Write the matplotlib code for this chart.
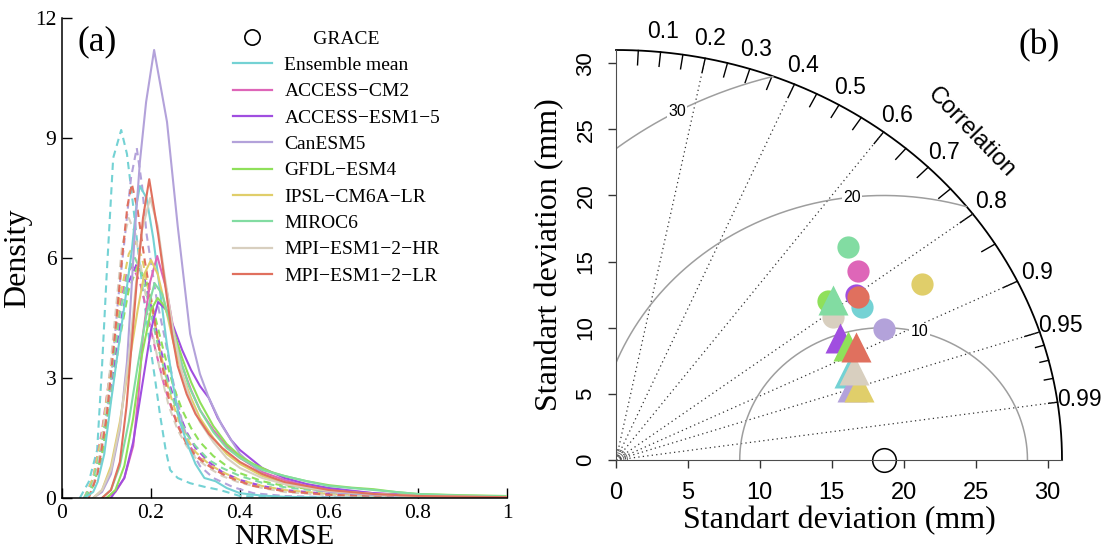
import numpy as np
import matplotlib

matplotlib.use("Agg")
import matplotlib.pyplot as plt
from matplotlib.lines import Line2D

serif = "Liberation Serif"
sans = "Liberation Sans"
plt.rcParams["font.family"] = [serif, "DejaVu Serif"]

# --- Panel (a): density curves of NRMSE ---
noms = ["Ensemble mean", "ACCESS\u2212CM2", "ACCESS\u2212ESM1\u22125", "CanESM5", "GFDL\u2212ESM4",
        "IPSL\u2212CM6A\u2212LR", "MIROC6", "MPI\u2212ESM1\u22122\u2212HR", "MPI\u2212ESM1\u22122\u2212LR"]
colors = ["#74D2D4", "#DE66B8", "#A04EE0", "#B3A2DA", "#8FE05A",
          "#E0CE6A", "#82DCA2", "#D8CFBF", "#E0705E"]

# solid curves
ens_x = [0.05, 0.07, 0.08, 0.095, 0.11, 0.126, 0.142, 0.157, 0.167, 0.175, 0.19, 0.205, 0.22, 0.235,
         0.25, 0.265, 0.28, 0.30, 0.32, 0.345, 0.37, 0.40, 0.45, 0.50, 0.60, 0.80, 1.0]
ens_y = [0.0, 0.15, 0.4, 1.1, 2.4, 3.7, 4.95, 6.2, 7.3, 7.8, 7.5, 6.5, 5.2, 3.9,
         2.8, 1.9, 1.4, 0.85, 0.5, 0.42, 0.25, 0.12, 0.06, 0.03, 0.01, 0.0, 0.0]
cm2_x = [0.10, 0.12, 0.14, 0.16, 0.172, 0.182, 0.198, 0.214, 0.235, 0.254, 0.27, 0.29, 0.31, 0.34,
         0.37, 0.40, 0.45, 0.50, 0.55, 0.60, 0.70, 0.80, 0.90, 1.0]
cm2_y = [0.0, 0.15, 0.5, 1.3, 2.6, 4.1, 5.4, 6.05, 5.2, 4.0, 3.3, 2.7, 2.2, 1.7,
         1.3, 1.0, 0.65, 0.45, 0.3, 0.22, 0.12, 0.06, 0.03, 0.02]
esm15_x = [0.11, 0.14, 0.16, 0.18, 0.20, 0.216, 0.235, 0.25, 0.27, 0.29, 0.31, 0.33, 0.35, 0.38,
           0.40, 0.45, 0.50, 0.55, 0.60, 0.70, 0.80, 0.90, 1.0]
esm15_y = [0.0, 0.5, 1.4, 2.8, 4.2, 4.9, 4.7, 4.3, 3.7, 3.2, 2.8, 2.5, 2.0, 1.45,
           1.2, 0.75, 0.5, 0.35, 0.25, 0.12, 0.06, 0.03, 0.02]
can_x = [0.07, 0.09, 0.11, 0.13, 0.146, 0.155, 0.164, 0.175, 0.189, 0.207, 0.236, 0.26, 0.288,
         0.31, 0.33, 0.36, 0.40, 0.45, 0.50, 0.60, 0.70, 0.80, 1.0]
can_y = [0.0, 0.15, 0.6, 1.7, 3.4, 5.0, 6.7, 8.4, 9.9, 11.2, 9.4, 6.8, 4.1,
         3.1, 2.5, 1.8, 1.1, 0.6, 0.35, 0.15, 0.08, 0.04, 0.01]
gfdl_x = [0.10, 0.12, 0.14, 0.16, 0.18, 0.20, 0.215, 0.23, 0.25, 0.27, 0.29, 0.31, 0.34, 0.37,
          0.40, 0.43, 0.47, 0.50, 0.55, 0.60, 0.65, 0.70, 0.75, 0.80, 0.90, 1.0]
gfdl_y = [0.0, 0.2, 0.8, 2.0, 3.6, 4.7, 5.0, 4.8, 4.2, 3.5, 2.9, 2.4, 1.8, 1.35,
          1.05, 0.85, 0.65, 0.55, 0.42, 0.32, 0.26, 0.22, 0.15, 0.1, 0.07, 0.05]
ipsl_x = [0.07, 0.09, 0.11, 0.13, 0.15, 0.17, 0.185, 0.20, 0.215, 0.23, 0.25, 0.27, 0.29, 0.31,
          0.34, 0.37, 0.40, 0.45, 0.50, 0.55, 0.60, 0.70, 0.80, 0.90, 1.0]
ipsl_y = [0.0, 0.2, 0.8, 1.9, 3.3, 4.7, 5.6, 5.95, 5.6, 4.9, 3.9, 3.1, 2.5, 2.0,
          1.5, 1.1, 0.85, 0.55, 0.35, 0.25, 0.18, 0.1, 0.05, 0.03, 0.02]
miroc_x = [0.09, 0.11, 0.13, 0.15, 0.17, 0.19, 0.208, 0.225, 0.245, 0.265, 0.285, 0.31, 0.34,
           0.37, 0.40, 0.45, 0.50, 0.55, 0.60, 0.65, 0.70, 0.80, 0.90, 1.0]
miroc_y = [0.0, 0.2, 0.8, 1.9, 3.3, 4.6, 5.37, 5.1, 4.3, 3.5, 2.8, 2.2, 1.65,
           1.25, 1.0, 0.7, 0.55, 0.42, 0.3, 0.25, 0.2, 0.1, 0.06, 0.04]
mpihr_x = [0.07, 0.09, 0.11, 0.13, 0.15, 0.165, 0.18, 0.198, 0.215, 0.23, 0.25, 0.27, 0.29, 0.31,
           0.34, 0.37, 0.40, 0.45, 0.50, 0.60, 0.70, 0.80, 1.0]
mpihr_y = [0.0, 0.2, 0.7, 1.8, 3.5, 5.2, 6.7, 7.5, 6.8, 5.6, 4.2, 3.1, 2.4, 1.9,
           1.4, 1.0, 0.75, 0.5, 0.35, 0.18, 0.1, 0.05, 0.02]
mpilr_x = [0.09, 0.11, 0.13, 0.145, 0.157, 0.168, 0.182, 0.196, 0.216, 0.231, 0.247, 0.26, 0.28,
           0.30, 0.33, 0.36, 0.40, 0.45, 0.50, 0.60, 0.70, 0.80, 1.0]
mpilr_y = [0.0, 0.2, 0.9, 2.3, 3.9, 5.4, 7.0, 7.97, 6.6, 5.4, 4.1, 3.3, 2.6,
           2.1, 1.6, 1.25, 0.9, 0.6, 0.4, 0.2, 0.1, 0.05, 0.02]

# dashed curves
ens_dx = [0.04, 0.06, 0.079, 0.09, 0.10, 0.115, 0.133, 0.146, 0.16, 0.175, 0.193, 0.21, 0.22,
          0.233, 0.243, 0.26, 0.288, 0.32, 0.355, 0.40, 0.50, 0.60]
ens_dy = [0.0, 0.4, 1.2, 3.3, 5.5, 8.5, 9.2, 8.6, 7.3, 5.8, 4.2, 2.9, 2.1,
          1.2, 0.7, 0.5, 0.37, 0.28, 0.2, 0.05, 0.01, 0.0]
cm2_dx = [0.05, 0.07, 0.09, 0.11, 0.13, 0.145, 0.158, 0.175, 0.19, 0.21, 0.23, 0.25, 0.27, 0.29,
          0.31, 0.34, 0.37, 0.40, 0.45, 0.50, 0.60, 0.70, 0.80, 1.0]
cm2_dy = [0.0, 0.5, 1.7, 3.3, 4.8, 5.6, 5.8, 5.4, 4.7, 3.7, 2.8, 2.1, 1.6, 1.25,
          1.0, 0.75, 0.55, 0.42, 0.28, 0.18, 0.08, 0.04, 0.02, 0.01]
esm15_dx = [0.05, 0.07, 0.09, 0.11, 0.13, 0.15, 0.168, 0.185, 0.20, 0.22, 0.24, 0.26, 0.28, 0.30,
            0.33, 0.36, 0.40, 0.45, 0.50, 0.60, 0.70, 0.80, 1.0]
esm15_dy = [0.0, 0.4, 1.3, 2.8, 4.3, 5.4, 5.85, 5.5, 4.8, 3.8, 2.9, 2.2, 1.65, 1.25,
            0.9, 0.65, 0.45, 0.3, 0.2, 0.1, 0.05, 0.02, 0.01]
can_dx = [0.05, 0.07, 0.09, 0.11, 0.126, 0.142, 0.155, 0.168, 0.18, 0.19, 0.213, 0.231, 0.25,
          0.27, 0.29, 0.31, 0.34, 0.385, 0.43, 0.50, 0.60, 0.80]
can_dy = [0.0, 0.3, 1.0, 2.9, 4.95, 6.6, 8.0, 8.75, 7.8, 6.6, 4.95, 4.0, 2.9,
          1.9, 1.2, 0.8, 0.5, 0.27, 0.12, 0.05, 0.02, 0.0]
gfdl_dx = [0.05, 0.07, 0.09, 0.11, 0.13, 0.15, 0.17, 0.19, 0.21, 0.23, 0.25, 0.27, 0.29, 0.31,
           0.34, 0.37, 0.40, 0.45, 0.50, 0.60, 0.70, 0.80, 1.0]
gfdl_dy = [0.0, 0.3, 1.1, 2.5, 4.0, 5.2, 5.8, 5.4, 4.5, 3.6, 2.8, 2.2, 1.75, 1.4,
           1.05, 0.8, 0.62, 0.42, 0.3, 0.17, 0.1, 0.05, 0.02]
ipsl_dx = [0.05, 0.07, 0.09, 0.11, 0.13, 0.15, 0.165, 0.18, 0.20, 0.22, 0.24, 0.26, 0.28, 0.30,
           0.33, 0.36, 0.40, 0.45, 0.50, 0.60, 0.70, 0.80, 1.0]
ipsl_dy = [0.0, 0.5, 1.6, 3.3, 5.0, 6.1, 6.4, 6.0, 4.9, 3.7, 2.7, 2.0, 1.5, 1.15,
           0.85, 0.65, 0.45, 0.3, 0.2, 0.1, 0.05, 0.02, 0.01]
miroc_dx = [0.05, 0.07, 0.09, 0.11, 0.13, 0.15, 0.164, 0.18, 0.20, 0.22, 0.24, 0.26, 0.28, 0.30,
            0.33, 0.36, 0.40, 0.45, 0.50, 0.60, 0.70, 0.80, 1.0]
miroc_dy = [0.0, 0.4, 1.4, 3.0, 4.6, 5.7, 6.0, 5.6, 4.6, 3.6, 2.8, 2.1, 1.6, 1.3,
            0.95, 0.75, 0.55, 0.38, 0.27, 0.15, 0.08, 0.04, 0.02]
mpihr_dx = [0.06, 0.08, 0.10, 0.12, 0.135, 0.15, 0.165, 0.18, 0.20, 0.22, 0.24, 0.26, 0.28, 0.30,
            0.33, 0.36, 0.40, 0.45, 0.50, 0.60, 0.70, 0.80]
mpihr_dy = [0.0, 0.7, 2.3, 4.6, 6.3, 7.0, 6.6, 5.6, 4.3, 3.2, 2.3, 1.7, 1.3, 1.0,
            0.75, 0.55, 0.38, 0.25, 0.15, 0.07, 0.03, 0.01]
mpilr_dx = [0.06, 0.08, 0.10, 0.12, 0.135, 0.147, 0.157, 0.17, 0.185, 0.20, 0.22, 0.24, 0.26, 0.28,
            0.30, 0.33, 0.36, 0.39, 0.43, 0.50, 0.60, 0.70, 0.80, 1.0]
mpilr_dy = [0.0, 0.6, 2.0, 4.2, 6.0, 7.3, 7.85, 7.2, 6.0, 5.0, 3.6, 2.5, 1.8, 1.35,
            1.05, 0.8, 0.6, 0.45, 0.3, 0.17, 0.08, 0.04, 0.02, 0.0]

solid = [(ens_x, ens_y), (cm2_x, cm2_y), (esm15_x, esm15_y), (can_x, can_y), (gfdl_x, gfdl_y),
         (ipsl_x, ipsl_y), (miroc_x, miroc_y), (mpihr_x, mpihr_y), (mpilr_x, mpilr_y)]
dashed = [(ens_dx, ens_dy), (cm2_dx, cm2_dy), (esm15_dx, esm15_dy), (can_dx, can_dy), (gfdl_dx, gfdl_dy),
          (ipsl_dx, ipsl_dy), (miroc_dx, miroc_dy), (mpihr_dx, mpihr_dy), (mpilr_dx, mpilr_dy)]

# --- Panel (b): Taylor diagram (sd in mm, correlation) ---
ref_sd = 18.6
circ_sd = [20.66, 22.06, 20.86, 21.07, 18.98, 25.11, 22.77, 18.56, 20.82]
circ_cor = [0.828, 0.762, 0.801, 0.883, 0.775, 0.848, 0.707, 0.813, 0.807]
tri_sd = [17.49, 17.65, 18.11, 17.3, 18.25, 17.77, 19.35, 17.85, 18.74]
tri_cor = [0.926, 0.946, 0.861, 0.948, 0.882, 0.951, 0.780, 0.925, 0.891]
rms_levels = [10, 20, 30]
corr_lines = [0.2, 0.4, 0.6, 0.8, 0.9, 0.95, 0.99]
corr_labels = [0.1, 0.2, 0.3, 0.4, 0.5, 0.6, 0.7, 0.8, 0.9, 0.95, 0.99]
r_max = 31

fig = plt.figure(figsize=(11.1, 5.53), dpi=100)

# ----- (a) -----
ax = fig.add_axes([62 / 1110, 55 / 553, 445 / 1110, 480 / 553])
for (xs, ys), c in zip(dashed, colors):
    ax.plot(xs, ys, color=c, lw=1.5, ls=(0, (3.5, 2.4)))
for (xs, ys), c in zip(solid, colors):
    ax.plot(xs, ys, color=c, lw=1.5)

ax.set_xlim(0, 1)
ax.set_ylim(0, 12)
ax.set_xticks([0, 0.2, 0.4, 0.6, 0.8, 1])
ax.set_xticklabels(["0", "0.2", "0.4", "0.6", "0.8", "1"])
ax.set_yticks([0, 3, 6, 9, 12])
ax.tick_params(direction="in", length=7, width=1, labelsize=15.5, pad=4)
for s in ["top", "right"]:
    ax.spines[s].set_visible(False)
for s in ["left", "bottom"]:
    ax.spines[s].set_linewidth(1.1)
ax.set_xlabel("NRMSE", fontsize=21, labelpad=1)
ax.set_ylabel("Density", fontsize=23, labelpad=2)
ax.text(0.078, 0.95, "(a)", transform=ax.transAxes, fontsize=25.5, ha="center", va="center")

handles = [Line2D([], [], ls="none", marker="o", mfc="none", mec="black", ms=11, mew=1.2)]
handles += [Line2D([], [], color=c, lw=1.6) for c in colors]
ax.legend(handles, ["      GRACE"] + noms, loc="upper left", bbox_to_anchor=(0.384, 0.975),
          frameon=False, fontsize=14, borderpad=0, borderaxespad=0, handlelength=2.0,
          handletextpad=0.65, labelspacing=0.45)

# ----- (b) -----
ax2 = fig.add_axes([616 / 1110, 93 / 553, 446 / 1110, 410 / 553])
ax2.set_xlim(0, r_max)
ax2.set_ylim(0, r_max)
for s in ["top", "right"]:
    ax2.spines[s].set_visible(False)
ax2.spines["left"].set_color("0.3")
ax2.spines["bottom"].set_color("0.3")

t = np.linspace(0, np.pi / 2, 300)
ax2.plot(r_max * np.cos(t), r_max * np.sin(t), color="black", lw=1.3, clip_on=False)

# correlation ticks on the outer arc
for cval in np.arange(0.05, 0.951, 0.05):
    a = np.arccos(cval)
    ax2.plot([r_max * np.cos(a), 0.965 * r_max * np.cos(a)],
             [r_max * np.sin(a), 0.965 * r_max * np.sin(a)], color="black", lw=1, clip_on=False)
for cval in np.arange(0.96, 0.995, 0.01):
    a = np.arccos(cval)
    ax2.plot([r_max * np.cos(a), 0.98 * r_max * np.cos(a)],
             [r_max * np.sin(a), 0.98 * r_max * np.sin(a)], color="black", lw=1, clip_on=False)

for cval in corr_lines:
    a = np.arccos(cval)
    ax2.plot([0, r_max * np.cos(a)], [0, r_max * np.sin(a)], color="0.2", lw=0.9, ls=(0, (1, 2.6)))

for cval in corr_labels:
    a = np.arccos(cval)
    ax2.text(1.05 * r_max * np.cos(a), 1.05 * r_max * np.sin(a), f"{cval:g}", family=sans,
             fontsize=16.5, ha="center", va="center", clip_on=False)
ax2.text(24.7, 24.8, "Correlation", family=sans, fontsize=17, rotation=-46,
         ha="center", va="center", rotation_mode="anchor")

# small arcs at the origin
for rr in [0.3, 0.55, 0.8]:
    ax2.plot(rr * np.cos(t), rr * np.sin(t), color="0.35", lw=0.6)

# centred RMS difference arcs
label_ang = [1.32, 1.68, 2.07]
tt = np.linspace(0, np.pi, 600)
for rr, ang in zip(rms_levels, label_ang):
    xs = ref_sd + rr * np.cos(tt)
    ys = rr * np.sin(tt)
    keep = (xs >= 0) & (np.hypot(xs, ys) <= r_max)
    ax2.plot(np.where(keep, xs, np.nan), np.where(keep, ys, np.nan), color="0.62", lw=1.1)
    ax2.text(ref_sd + rr * np.cos(ang), rr * np.sin(ang), str(rr), family=sans, fontsize=11.5,
             ha="center", va="center", bbox=dict(facecolor="white", edgecolor="none", pad=1))

# model points
for sd, cr, c in zip(circ_sd, circ_cor, colors):
    ax2.plot(sd * cr, sd * np.sqrt(1 - cr ** 2), "o", ms=16, color=c, mec="none")
for sd, cr, c in zip(tri_sd, tri_cor, colors):
    ax2.plot(sd * cr, sd * np.sqrt(1 - cr ** 2), "^", ms=21, color=c, mec="none")
ax2.plot(ref_sd, 0, "o", ms=17, mfc="none", mec="black", mew=1.1, clip_on=False)

ax2.set_xticks(range(0, 31, 5))
ax2.set_yticks(range(0, 31, 5))
ax2.set_yticklabels([str(v) for v in range(0, 31, 5)], rotation=90, va="center")
ax2.tick_params(direction="out", length=6, width=1, color="0.2")
ax2.tick_params(axis="x", pad=10)
ax2.tick_params(axis="y", pad=8)
for lbl in ax2.get_xticklabels():
    lbl.set_fontfamily(sans)
    lbl.set_fontsize(17)
for lbl in ax2.get_yticklabels():
    lbl.set_fontfamily(sans)
    lbl.set_fontsize(16)
ax2.set_xlabel("Standart deviation (mm)", fontsize=23, labelpad=1)
ax2.set_ylabel("Standart deviation (mm)", fontsize=23, labelpad=8)
fig.text(1039 / 1110, 1 - 46 / 553, "(b)", fontsize=25.5, ha="center", va="center")

fig.savefig("out.png", dpi=100)
